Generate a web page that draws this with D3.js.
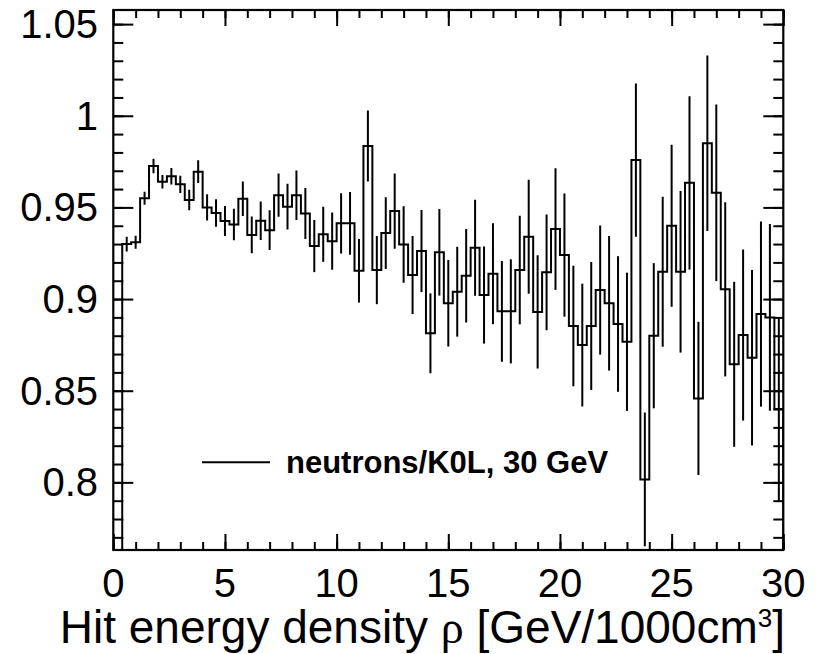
<!DOCTYPE html>
<html><head><meta charset="utf-8">
<script src="https://cdn.jsdelivr.net/npm/d3@7"></script>
<style>body{margin:0;background:#fff}</style>
</head><body>
<svg id="c" width="821" height="654"></svg>
<script>
// ---- data ----
const histRange = [0, 30];
const ratio = [0.60,
 0.930,0.931,0.955,0.9726,0.964,0.967,0.9626,0.954,0.9695,0.950,
 0.947,0.9426,0.9407,0.9547,0.935,0.9427,0.9376,0.9567,0.9504,0.9567,
 0.9467,0.9289,0.9353,0.9316,0.9413,0.9413,0.9154,0.9835,0.9158,0.936,
 0.948,0.9298,0.9131,0.9262,0.8813,0.9255,0.8977,0.904,0.9127,0.928,
 0.9022,0.9138,0.8933,0.8933,0.9158,0.934,0.893,0.9146,0.9382,0.924,
 0.8853,0.8749,0.8853,0.9049,0.8977,0.8864,0.8767,0.9758,0.8016,0.880,
 0.9149,0.940,0.9149,0.9634,0.8458,0.985,0.958,0.9053,0.8644,0.8804,
 0.868,0.8918,0.890,0.840];
const ratioErr = [0,
 0.004,0.0035,0.0035,0.004,0.0037,0.0045,0.0047,0.0056,0.0062,0.0072,
 0.0075,0.0082,0.0086,0.0094,0.010,0.0105,0.0109,0.0118,0.0125,0.0135,
 0.0139,0.0142,0.015,0.0156,0.0164,0.0171,0.0173,0.0194,0.0186,0.0196,
 0.0205,0.0209,0.0213,0.0224,0.0218,0.0236,0.0236,0.0245,0.0255,0.0262,
 0.0265,0.0275,0.0275,0.0284,0.0296,0.0311,0.0309,0.0316,0.0332,0.0336,
 0.0329,0.0335,0.0349,0.0352,0.0367,0.037,0.0377,0.0418,0.0365,0.0396,
 0.0409,0.0442,0.0441,0.0473,0.0418,0.0479,0.0482,0.0475,0.045,0.0467,
 0.0479,0.0505,0.0509,0.050];
const xTicks = [0,5,10,15,20,25,30];
const xMinorTicks = d3.range(0,31,1);
const yTicks = [0.8,0.85,0.9,0.95,1,1.05];
const yTickLabels = ["0.8","0.85","0.9","0.95","1","1.05"];
const yMinorTicks = d3.range(77,106).map(v=>v/100);
const legendLabel = "neutrons/K0L, 30 GeV";

// ---- layout ----
const W=821,H=654;
const m = {l:113.3, r:783.3, t:10, b:550};
const x = d3.scaleLinear().domain(histRange).range([m.l,m.r]);
const y = d3.scaleLinear().domain([0.7631,1.0577]).range([m.b,m.t]);
const svg = d3.select("#c");
svg.append("rect").attr("width",W).attr("height",H).attr("fill","#fff");
svg.append("defs").append("clipPath").attr("id","clip")
  .append("rect").attr("x",m.l).attr("y",m.t).attr("width",m.r-m.l).attr("height",m.b-m.t);

const n = ratio.length, bw = (histRange[1]-histRange[0])/n;
const bins = ratio.map((v,i)=>({lo:histRange[0]+i*bw, hi:histRange[0]+(i+1)*bw, v, e:ratioErr[i]}));

const g = svg.append("g").attr("clip-path","url(#clip)");
const pts = [[x(histRange[0]), m.b+5]];
bins.forEach(b=>{ pts.push([x(b.lo), y(b.v)]); pts.push([x(b.hi), y(b.v)]); });
pts.push([x(histRange[1]), m.b+5]);
g.append("path").attr("d", d3.line()(pts)).attr("fill","none")
  .attr("stroke","#000").attr("stroke-width",2).attr("stroke-linejoin","miter");
g.selectAll("line.err").data(bins.filter(b=>b.e>0)).join("line").attr("class","err")
  .attr("x1",b=>x((b.lo+b.hi)/2)).attr("x2",b=>x((b.lo+b.hi)/2))
  .attr("y1",b=>y(b.v-b.e)).attr("y2",b=>y(b.v+b.e))
  .attr("stroke","#000").attr("stroke-width",2);

// ---- axes (ticks inward) ----
function ax(axis, tx, ty){
  const s = svg.append("g").attr("transform",`translate(${tx},${ty})`).call(axis);
  s.select(".domain").remove();
  s.selectAll(".tick line").attr("stroke","#000").attr("stroke-width",2);
  s.selectAll("text").remove();
}
ax(d3.axisBottom(x).tickValues(xTicks).tickSize(-16), 0, m.b);
ax(d3.axisBottom(x).tickValues(xMinorTicks).tickSize(-8), 0, m.b);
ax(d3.axisTop(x).tickValues(xTicks).tickSize(-16), 0, m.t);
ax(d3.axisTop(x).tickValues(xMinorTicks).tickSize(-8), 0, m.t);
ax(d3.axisLeft(y).tickValues(yTicks).tickSize(-20), m.l, 0);
ax(d3.axisLeft(y).tickValues(yMinorTicks).tickSize(-10), m.l, 0);
ax(d3.axisRight(y).tickValues(yTicks).tickSize(-20), m.r, 0);
ax(d3.axisRight(y).tickValues(yMinorTicks).tickSize(-10), m.r, 0);

svg.append("rect").attr("x",m.l).attr("y",m.t).attr("width",m.r-m.l).attr("height",m.b-m.t)
  .attr("fill","none").attr("stroke","#000").attr("stroke-width",2.2);

// ---- labels ----
const font = "'Liberation Sans', Arial, Helvetica, sans-serif";
svg.append("g").selectAll("text").data(xTicks).join("text")
  .attr("x",d=>x(d)).attr("y",597).attr("text-anchor","middle")
  .attr("font-family",font).attr("font-size",40).text(d=>d);
svg.append("g").selectAll("text").data(yTicks).join("text")
  .attr("x",98).attr("y",d=>y(d)+14).attr("text-anchor","end")
  .attr("font-family",font).attr("font-size",40).text((d,i)=>yTickLabels[i]);

const t = svg.append("text").attr("x",785).attr("y",643).attr("text-anchor","end")
  .attr("font-family",font).attr("font-size",46);
t.append("tspan").text("Hit energy density ");
t.append("tspan").attr("font-family","'Liberation Serif', 'DejaVu Serif', serif").text("ρ");
t.append("tspan").text(" [GeV/1000cm");
t.append("tspan").attr("font-size",26).attr("dy",-16).text("3");
t.append("tspan").attr("dy",16).text("]");

// legend
svg.append("line").attr("x1",202).attr("x2",270).attr("y1",y(0.8)-20).attr("y2",y(0.8)-20)
  .attr("stroke","#000").attr("stroke-width",2);
svg.append("text").attr("x",286).attr("y",y(0.8)-9).attr("font-family",font)
  .attr("font-weight","bold").attr("font-size",31).text(legendLabel);
</script>
</body></html>
